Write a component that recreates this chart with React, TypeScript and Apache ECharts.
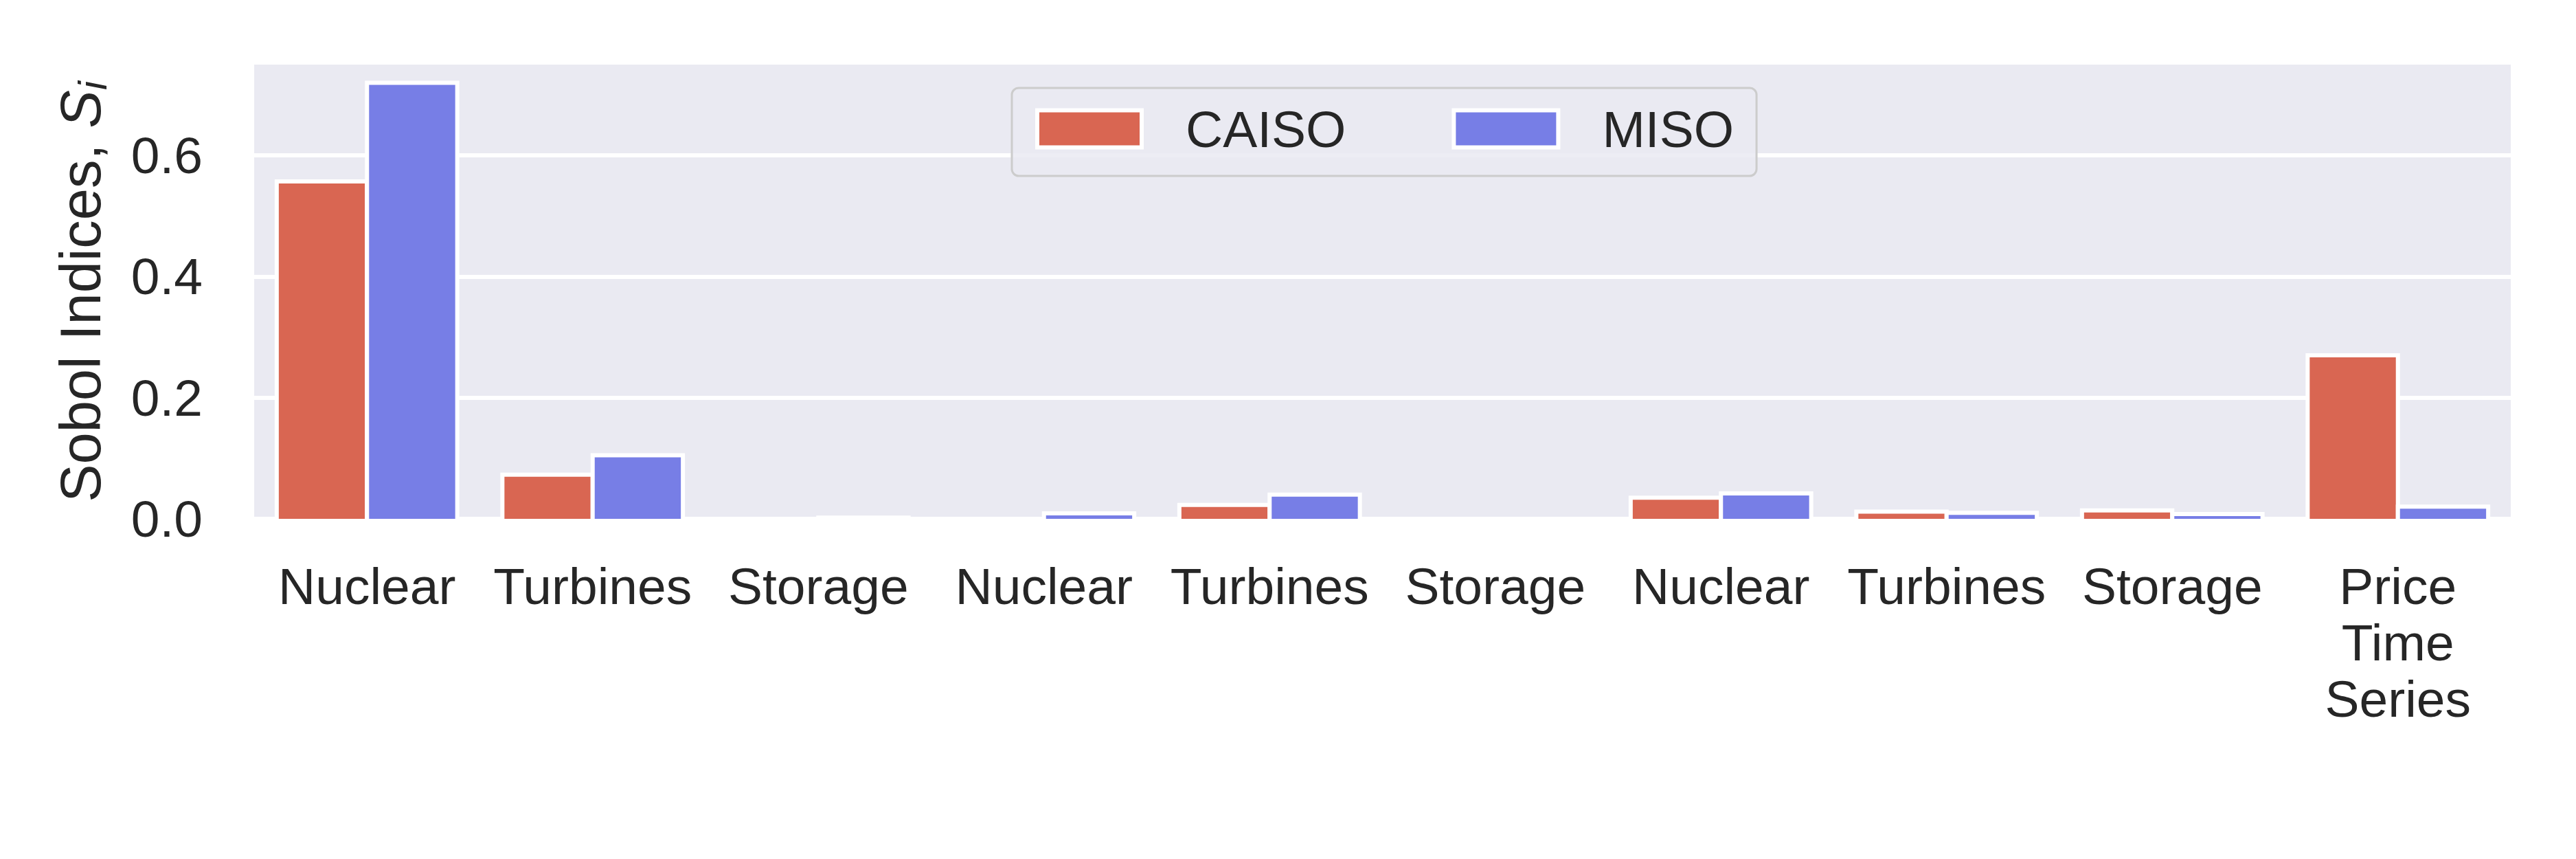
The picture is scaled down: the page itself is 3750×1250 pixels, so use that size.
import React, { useEffect, useRef } from "react";
import * as echarts from "echarts";

// Chart data
const categories = [
  "Nuclear",
  "Turbines",
  "Storage",
  "Nuclear",
  "Turbines",
  "Storage",
  "Nuclear",
  "Turbines",
  "Storage",
  "Price\nTime\nSeries",
];
const caisoValues = [0.557, 0.073, 0.0, 0.0, 0.023, 0.0, 0.035, 0.012, 0.014, 0.27];
const misoValues = [0.72, 0.105, 0.002, 0.009, 0.04, 0.0, 0.042, 0.01, 0.008, 0.02];
const yTicks = [0, 0.2, 0.4, 0.6];

const FONT = '"Liberation Sans", Arial, sans-serif';
const TEXT = "#262626";
const EDGE = 6;

const SobolChart: React.FC = () => {
  const chartRef = useRef<HTMLDivElement>(null);

  useEffect(() => {
    if (!chartRef.current) return;
    const chart = echarts.init(chartRef.current, null, { renderer: "svg" });

    // seaborn-style bars: 0.8 of the band split in two, white edge,
    // bottom edge clipped by the plot area
    const makeBars = (name: string, values: number[], slot: number, color: string) => ({
      name,
      type: "custom",
      clip: true,
      itemStyle: { color },
      data: values.map((v, i) => [i, v]),
      encode: { x: 0, y: 1 },
      renderItem: (params: any, api: any) => {
        const idx = api.value(0);
        const val = api.value(1);
        const base = api.coord([idx, 0]);
        const top = api.coord([idx, val]);
        const band = api.size([1, 0])[0];
        const w = band * 0.4;
        const x = base[0] - band * 0.4 + slot * w;
        return {
          type: "rect",
          shape: { x, y: top[1], width: w, height: base[1] - top[1] + EDGE },
          style: { fill: color, stroke: "#ffffff", lineWidth: EDGE },
        };
      },
    });

    chart.setOption({
      animation: false,
      backgroundColor: "#ffffff",
      textStyle: { fontFamily: FONT },
      grid: {
        left: 370,
        right: 95,
        top: 94,
        bottom: 495,
        show: true,
        backgroundColor: "#EAEAF2",
        borderWidth: 0,
      },
      legend: {
        left: 1473,
        top: 128,
        padding: [22, 33, 31, 34],
        itemWidth: 152,
        itemHeight: 54,
        itemGap: 154,
        icon: "rect",
        backgroundColor: "rgba(234,234,242,0.85)",
        borderColor: "#cccccc",
        borderWidth: 3,
        borderRadius: 10,
        itemStyle: { borderColor: "#ffffff", borderWidth: 6 },
        textStyle: {
          fontSize: 75,
          color: TEXT,
          fontFamily: FONT,
          padding: [0, 0, 0, 59],
        },
        data: ["CAISO", "MISO"],
      },
      xAxis: {
        type: "category",
        data: categories,
        axisLine: { show: false },
        axisTick: { show: false },
        splitLine: { show: false },
        axisLabel: {
          interval: 0,
          margin: 57,
          fontSize: 75,
          lineHeight: 82,
          color: TEXT,
          fontFamily: FONT,
        },
      },
      yAxis: {
        type: "value",
        min: 0,
        max: 0.75,
        interval: 0.2,
        axisLine: { show: false },
        axisTick: { show: false },
        splitLine: {
          show: true,
          showMaxLine: false,
          lineStyle: { color: "#ffffff", width: 6 },
        },
        axisLabel: {
          margin: 75,
          fontSize: 75,
          color: TEXT,
          fontFamily: FONT,
          showMaxLabel: false,
          formatter: (v: number) =>
            yTicks.some((t) => Math.abs(t - v) < 1e-9) ? v.toFixed(1) : "",
        },
        name: "Sobol Indices, {it|S}{sub|i}",
        nameLocation: "middle",
        nameGap: 207,
        nameRotate: 90,
        nameTextStyle: {
          fontSize: 83,
          lineHeight: 92,
          color: TEXT,
          fontFamily: FONT,
          rich: {
            it: {
              fontSize: 83,
              lineHeight: 92,
              fontStyle: "italic",
              color: TEXT,
              fontFamily: FONT,
            },
            sub: {
              fontSize: 58,
              lineHeight: 46,
              fontStyle: "italic",
              verticalAlign: "bottom",
              color: TEXT,
              fontFamily: FONT,
            },
          },
        },
      },
      series: [
        makeBars("CAISO", caisoValues, 0, "#D96652"),
        makeBars("MISO", misoValues, 1, "#777EE6"),
      ],
    });

    return () => {
      chart.dispose();
    };
  }, []);

  return (
    <div
      ref={chartRef}
      style={{ position: "fixed", left: 0, top: 0, width: "3750px", height: "1250px" }}
    />
  );
};

export default function App() {
  return <SobolChart />;
}
